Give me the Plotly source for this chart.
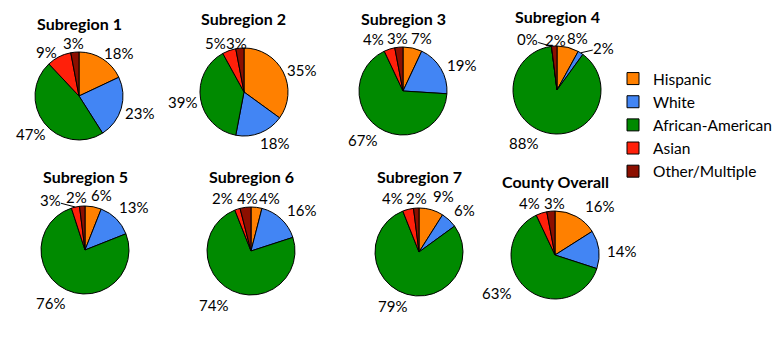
import math
import plotly.graph_objects as go

categories = ["Hispanic", "White", "African-American", "Asian", "Other/Multiple"]
colors = ["#FF8000", "#4285F4", "#008A00", "#FF200A", "#8C0F00"]

titles = ["Subregion 1", "Subregion 2", "Subregion 3", "Subregion 4",
          "Subregion 5", "Subregion 6", "Subregion 7", "County Overall"]
sub1 = [18, 23, 47, 9, 3]
sub2 = [35, 18, 39, 5, 3]
sub3 = [7, 19, 67, 4, 3]
sub4 = [8, 2, 88, 0, 2]
sub5 = [6, 13, 76, 3, 2]
sub6 = [4, 16, 74, 2, 4]
sub7 = [9, 6, 79, 4, 2]
county = [16, 14, 63, 4, 3]
series = [sub1, sub2, sub3, sub4, sub5, sub6, sub7, county]

# ---------------- layout (pixels) ----------------
W, H = 781, 347
centers = [(79, 96), (244, 92), (403, 91), (557, 90),
           (85, 250), (251, 251), (419, 252), (555, 255)]
R = 44
title_y = [24, 19, 18, 17, 176, 176, 177, 181]

# label placement tweaks (chart, slice) -> (dx, dy) in px, to mimic the original layout
label_nudge = {
    (0, 0): (8, 7), (0, 3): (-7, 7), (0, 4): (0, 1),
    (1, 0): (2, 6), (1, 1): (9, -3), (1, 3): (-10, 4), (1, 4): (-2, 5),
    (2, 0): (7, 1), (2, 1): (5, 6), (2, 2): (-7, 0), (2, 3): (-12, 1), (2, 4): (0, 1),
    (3, 0): (7, 2), (3, 1): (16, 6), (3, 2): (-20, -1), (3, 3): (-23, 3), (3, 4): (2, 3),
    (4, 0): (6, -1), (4, 1): (5, 0), (4, 2): (-10, 0), (4, 3): (-23, 4), (4, 4): (-5, 0),
    (5, 0): (12, 1), (5, 1): (9, 3), (5, 2): (-13, 1), (5, 3): (-11, 0), (5, 4): (3, 1),
    (6, 0): (9, -3), (6, 1): (6, 0), (6, 2): (-11, 0), (6, 3): (-13, 0), (6, 4): (1, -1),
    (7, 0): (16, 3), (7, 1): (5, 4), (7, 2): (-18, -8), (7, 3): (-8, 1), (7, 4): (5, 2),
}
leader_lines = {(3, 1), (3, 3), (4, 3)}

FONT = "Lato, 'Open Sans', sans-serif"
LABEL_SIZE = 15

fig = go.Figure()


def px2paper(x, y):
    return x / W, 1 - y / H


for i, (t, vals) in enumerate(zip(titles, series)):
    cx, cy = centers[i]
    fig.add_trace(go.Pie(
        labels=categories, values=vals,
        textinfo="none",
        sort=False, direction="clockwise", rotation=0,
        marker=dict(colors=colors, line=dict(color="black", width=1)),
        domain=dict(x=[(cx - R) / W, (cx + R) / W],
                    y=[1 - (cy + R) / H, 1 - (cy - R) / H]),
        showlegend=(i == 0),
        hoverinfo="label+percent",
    ))
    fig.add_annotation(x=cx / W, y=1 - title_y[i] / H, xref="paper", yref="paper",
                       text=f"<b>{t}</b>", showarrow=False, borderpad=0,
                       font=dict(family=FONT, size=16, color="black"),
                       xanchor="center", yanchor="middle")

    # percentage labels placed outside each slice, at its mid-angle
    total = sum(vals)
    cum = 0
    for j, v in enumerate(vals):
        theta = 2 * math.pi * (cum + v / 2) / total
        cum += v
        txt = f"{v}%"
        w = 8.1 * (len(txt) - 1) + 11.2
        ext = abs(math.sin(theta)) * w / 2 + abs(math.cos(theta)) * 5
        r = R + 4 + ext
        dx, dy = label_nudge.get((i, j), (0, 0))
        lx = cx + r * math.sin(theta) + dx
        ly = cy - r * math.cos(theta) + dy
        if (i, j) in leader_lines:
            ex = cx + R * math.sin(theta)
            ey = cy - R * math.cos(theta)
            px, py = px2paper(ex, ey)
            fig.add_annotation(x=px, y=py, xref="paper", yref="paper",
                               text=txt, showarrow=True, arrowhead=0,
                               arrowwidth=1, arrowcolor="black", standoff=0,
                               ax=lx - ex, ay=ly - ey, borderpad=0,
                               font=dict(family=FONT, size=LABEL_SIZE, color="black"))
        else:
            px, py = px2paper(lx, ly)
            fig.add_annotation(x=px, y=py, xref="paper", yref="paper",
                               text=txt, showarrow=False, borderpad=0,
                               xanchor="center", yanchor="middle",
                               font=dict(family=FONT, size=LABEL_SIZE, color="black"))

fig.update_layout(
    width=W, height=H,
    margin=dict(l=0, r=0, t=0, b=0),
    paper_bgcolor="white", plot_bgcolor="white",
    legend=dict(x=613 / W, y=1 - 62 / H, xanchor="left", yanchor="top",
                font=dict(family=FONT, size=15.5, color="black"),
                tracegroupgap=0, itemwidth=30),
)
fig.write_html("out.html")
